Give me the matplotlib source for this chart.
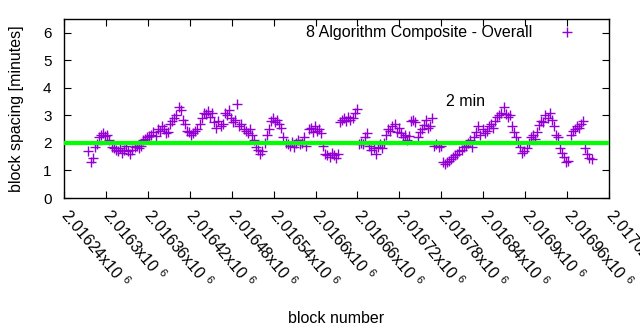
import numpy as np
import matplotlib
matplotlib.use("Agg")
import matplotlib.pyplot as plt

plt.rcParams['font.family'] = ['Liberation Sans', 'DejaVu Sans']
plt.rcParams['mathtext.default'] = 'regular'

# block numbers (every 3rd block) and block spacing in minutes
blocks = [
    2016275, 2016278, 2016281, 2016284, 2016287, 2016290, 2016293, 2016296, 2016299, 2016302,
    2016305, 2016308, 2016311, 2016314, 2016317, 2016320, 2016323, 2016326, 2016329, 2016332,
    2016335, 2016338, 2016341, 2016344, 2016347, 2016350, 2016353, 2016356, 2016359, 2016362,
    2016365, 2016368, 2016371, 2016374, 2016377, 2016380, 2016383, 2016386, 2016389, 2016392,
    2016395, 2016398, 2016401, 2016404, 2016407, 2016410, 2016413, 2016416, 2016419, 2016422,
    2016425, 2016428, 2016431, 2016434, 2016437, 2016440, 2016443, 2016446, 2016449, 2016452,
    2016455, 2016458, 2016461, 2016464, 2016467, 2016470, 2016473, 2016476, 2016479, 2016482,
    2016485, 2016488, 2016491, 2016494, 2016497, 2016500, 2016503, 2016506, 2016509, 2016512,
    2016515, 2016518, 2016521, 2016524, 2016527, 2016530, 2016533, 2016536, 2016539, 2016542,
    2016545, 2016548, 2016551, 2016554, 2016557, 2016560, 2016563, 2016566, 2016569, 2016572,
    2016575, 2016578, 2016581, 2016584, 2016587, 2016590, 2016593, 2016596, 2016599, 2016602,
    2016605, 2016608, 2016611, 2016614, 2016617, 2016620, 2016623, 2016626, 2016629, 2016632,
    2016635, 2016638, 2016641, 2016644, 2016647, 2016650, 2016653, 2016656, 2016659, 2016662,
    2016665, 2016668, 2016671, 2016674, 2016677, 2016680, 2016683, 2016686, 2016689, 2016692,
    2016695, 2016698, 2016701, 2016704, 2016707, 2016710, 2016713, 2016716, 2016719, 2016722,
    2016725, 2016728, 2016731, 2016734, 2016737, 2016740, 2016743, 2016746, 2016749, 2016752,
    2016755, 2016758, 2016761, 2016764, 2016767, 2016770, 2016773, 2016776, 2016779, 2016782,
    2016785, 2016788, 2016791, 2016794, 2016797, 2016800, 2016803, 2016806, 2016809, 2016812,
    2016815, 2016818, 2016821, 2016824, 2016827, 2016830, 2016833, 2016836, 2016839, 2016842,
    2016845, 2016848, 2016851, 2016854, 2016857, 2016860, 2016863, 2016866, 2016869, 2016872,
    2016875, 2016878, 2016881, 2016884, 2016887, 2016890, 2016893, 2016896, 2016899, 2016902,
    2016905, 2016908, 2016911, 2016914, 2016917, 2016920, 2016923, 2016926, 2016929, 2016932,
    2016935, 2016938, 2016941, 2016944, 2016947, 2016950, 2016953, 2016956, 2016959, 2016962,
    2016965, 2016968, 2016971, 2016974, 2016977, 2016980, 2016983, 2016986, 2016989, 2016992,
    2016995,
]
spacing = [
    1.70, 1.30, 1.45, 1.85, 1.95, 2.20, 2.30, 2.35, 2.25, 2.30,
    2.10, 1.85, 1.80, 1.75, 1.70, 1.80, 1.65, 1.75, 1.90, 1.70,
    1.60, 1.75, 1.85, 1.90, 1.80, 1.90, 2.10, 2.15, 2.20, 2.25,
    2.30, 2.40, 2.25, 2.50, 2.45, 2.60, 2.50, 2.35, 2.40, 2.70,
    2.80, 2.90, 3.00, 3.30, 3.20, 2.85, 2.70, 2.45, 2.40, 2.30,
    2.35, 2.45, 2.50, 2.70, 2.90, 3.10, 3.05, 3.15, 2.95, 3.10,
    2.75, 2.55, 2.80, 2.60, 2.70, 3.10, 3.00, 3.20, 2.90, 2.75,
    2.85, 3.40, 2.60, 2.70, 2.50, 2.45, 2.35, 2.50, 2.30, 2.10,
    1.85, 1.75, 1.60, 1.70, 2.00, 2.30, 2.50, 2.80, 2.90, 2.75,
    2.85, 2.70, 2.55, 2.20, 2.00, 1.95, 1.90, 2.05, 1.85, 2.00,
    2.10, 1.95, 2.00, 2.20, 1.90, 2.50, 2.55, 2.40, 2.60, 2.45,
    2.50, 2.35, 1.90, 1.60, 1.55, 1.50, 1.65, 1.55, 1.45, 1.60,
    2.75, 2.85, 2.90, 2.80, 2.95, 2.85, 2.90, 3.10, 3.25, 1.95,
    2.00, 1.95, 2.20, 2.35, 1.90, 1.75, 1.80, 1.60, 1.85, 1.95,
    1.80, 2.00, 2.30, 2.50, 2.45, 2.60, 2.70, 2.40, 2.55, 2.35,
    2.20, 2.30, 2.10, 2.25, 2.80, 2.85, 2.75, 2.20, 2.40, 2.50,
    2.65, 2.85, 2.55, 2.60, 2.90, 1.90, 1.95, 1.85, 1.90, 1.30,
    1.25, 1.30, 1.35, 1.40, 1.50, 1.55, 1.60, 1.70, 1.75, 1.85,
    1.90, 2.00, 2.10, 1.85, 2.20, 2.40, 2.60, 2.30, 2.50, 2.35,
    2.45, 2.60, 2.70, 2.55, 2.80, 2.95, 3.00, 3.10, 3.30, 3.05,
    2.95, 3.00, 2.60, 2.40, 2.20, 2.05, 1.85, 1.65, 1.70, 1.80,
    2.00, 2.20, 2.30, 2.15, 2.40, 2.65, 2.80, 2.75, 3.00, 2.90,
    3.10, 2.85, 2.60, 2.30, 2.20, 1.80, 1.65, 1.50, 1.30, 1.35,
    2.30, 2.45, 2.50, 2.60, 2.55, 2.70, 2.80, 1.80, 1.60, 1.45,
    1.40,
]

target = 2.0
xticks = [2016240 + 60 * i for i in range(14)]
xticklabels = ["%gx10 $^{6}$" % (t / 1e6) for t in xticks]

fig = plt.figure(figsize=(6.4, 3.3), dpi=100)
ax = fig.add_axes([0.1, 0.4, 0.8516, 0.5424])

ax.plot(blocks, spacing, '+', color='#9400d3', markersize=7, markeredgewidth=1.0,
        label='8 Algorithm Composite - Overall', zorder=2)
ax.axhline(target, color='#00ff00', linewidth=3, zorder=3)
ax.text(2016787, 3.5, '2 min', fontsize=11.5, ha='left', va='center')

ax.set_xlim(2016240, 2017020)
ax.set_ylim(0, 6.5)
ax.set_yticks(range(7))
ax.set_xticks(xticks)
ax.set_xticklabels(xticklabels, rotation=-50, ha='left', va='center', rotation_mode='anchor')
ax.tick_params(direction='in', top=True, right=True, length=5, labelsize=11)
ax.tick_params(axis='x', labelsize=11.5, pad=10)
ax.tick_params(axis='y', pad=9)
for s in ax.spines.values():
    s.set_linewidth(1.0)

ax.set_xlabel('block number', fontsize=11.5, labelpad=14)
ax.set_ylabel('block spacing [minutes]', fontsize=11.5, labelpad=14)

ax.legend(loc='upper right', markerfirst=False, frameon=False, fontsize=11.5,
          handlelength=4.4, borderaxespad=0.0, handletextpad=0.0)

fig.savefig('out.png', dpi=100)
